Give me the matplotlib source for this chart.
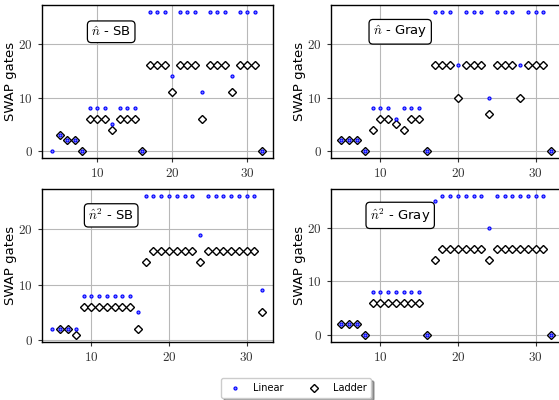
import matplotlib
matplotlib.use('Agg')
import matplotlib.pyplot as plt
from matplotlib.ticker import FuncFormatter

plt.rcParams['mathtext.fontset'] = 'cm'
plt.rcParams['font.family'] = ['DejaVu Sans']

# panel titles
titles = [r'$\hat{n}$ - SB', r'$\hat{n}$ - Gray', r'$\hat{n}^2$ - SB', r'$\hat{n}^2$ - Gray']

# n - SB
lin_x_1 = list(range(4, 33))
lin_y_1 = [0, 3, 2, 2, 0, 8, 8, 8, 5, 8, 8, 8, 0, 26, 26, 26, 14, 26, 26, 26, 11, 26, 26, 26, 14, 26, 26, 26, 0]
lad_x_1 = list(range(5, 33))
lad_y_1 = [3, 2, 2, 0, 6, 6, 6, 4, 6, 6, 6, 0, 16, 16, 16, 11, 16, 16, 16, 6, 16, 16, 16, 11, 16, 16, 16, 0]

# n - Gray
lin_x_2 = list(range(5, 33))
lin_y_2 = [2, 2, 2, 0, 8, 8, 8, 6, 8, 8, 8, 0, 26, 26, 26, 16, 26, 26, 26, 10, 26, 26, 26, 16, 26, 26, 26, 0]
lad_x_2 = list(range(5, 33))
lad_y_2 = [2, 2, 2, 0, 4, 6, 6, 5, 4, 6, 6, 0, 16, 16, 16, 10, 16, 16, 16, 7, 16, 16, 16, 10, 16, 16, 16, 0]

# n^2 - SB
lin_x_3 = list(range(5, 33))
lin_y_3 = [2, 2, 2, 2, 8, 8, 8, 8, 8, 8, 8, 5, 26, 26, 26, 26, 26, 26, 26, 19, 26, 26, 26, 26, 26, 26, 26, 9]
lad_x_3 = list(range(6, 33))
lad_y_3 = [2, 2, 1, 6, 6, 6, 6, 6, 6, 6, 2, 14, 16, 16, 16, 16, 16, 16, 14, 16, 16, 16, 16, 16, 16, 16, 5]

# n^2 - Gray
lin_x_4 = list(range(5, 33))
lin_y_4 = [2, 2, 2, 0, 8, 8, 8, 8, 8, 8, 8, 0, 25, 26, 26, 26, 26, 26, 26, 20, 26, 26, 26, 26, 26, 26, 26, 0]
lad_x_4 = list(range(5, 33))
lad_y_4 = [2, 2, 2, 0, 6, 6, 6, 6, 6, 6, 6, 0, 14, 16, 16, 16, 16, 16, 16, 14, 16, 16, 16, 16, 16, 16, 16, 0]

panels = [
    (lin_x_1, lin_y_1, lad_x_1, lad_y_1),
    (lin_x_2, lin_y_2, lad_x_2, lad_y_2),
    (lin_x_3, lin_y_3, lad_x_3, lad_y_3),
    (lin_x_4, lin_y_4, lad_x_4, lad_y_4),
]

fig = plt.figure(figsize=(5.59, 4.0), dpi=100)
w, h = 0.4127, 0.3825
positions = [(0.0751, 0.605), (0.5921, 0.605), (0.0751, 0.146), (0.5921, 0.146)]

math_fmt = FuncFormatter(lambda v, p: r'$%d$' % v)

for i, (lx, ly, dx, dy) in enumerate(panels):
    ax = fig.add_axes([positions[i][0], positions[i][1], w, h])
    ax.plot(dx, dy, linestyle='none', marker='D', ms=4.5, mfc='white', mec='black',
            mew=1.0, label='Ladder', zorder=3)
    ax.plot(lx, ly, linestyle='none', marker='o', ms=2.2, mfc='#8080ff', mec='blue',
            mew=0.8, label='Linear', zorder=4)
    ax.set_xticks([10, 20, 30])
    ax.set_yticks([0, 10, 20])
    ax.xaxis.set_major_formatter(math_fmt)
    ax.yaxis.set_major_formatter(math_fmt)
    ax.tick_params(labelsize=9.5, length=3, width=0.8, colors='#333333')
    ax.grid(True, color='#b8b8b8', linewidth=0.8)
    ax.set_axisbelow(True)
    for s in ax.spines.values():
        s.set_linewidth(1.0)
    ax.set_ylabel('SWAP gates', fontsize=9.5, labelpad=1)
    ax.text(0.30, 0.825, titles[i], transform=ax.transAxes, ha='center', va='center',
            fontsize=9.5,
            bbox=dict(boxstyle='round,pad=0.3', fc='white', ec='black', lw=0.9))

handles, labels = ax.get_legend_handles_labels()
fig.legend(handles[::-1], labels[::-1], loc='center', bbox_to_anchor=(0.53, 0.03), ncol=2,
           fontsize=7, fancybox=True, shadow=True, columnspacing=2.2, handletextpad=1.0,
           handlelength=1.8, borderpad=0.5, framealpha=1.0, edgecolor='#cccccc')

fig.savefig('out.png', dpi=100)
